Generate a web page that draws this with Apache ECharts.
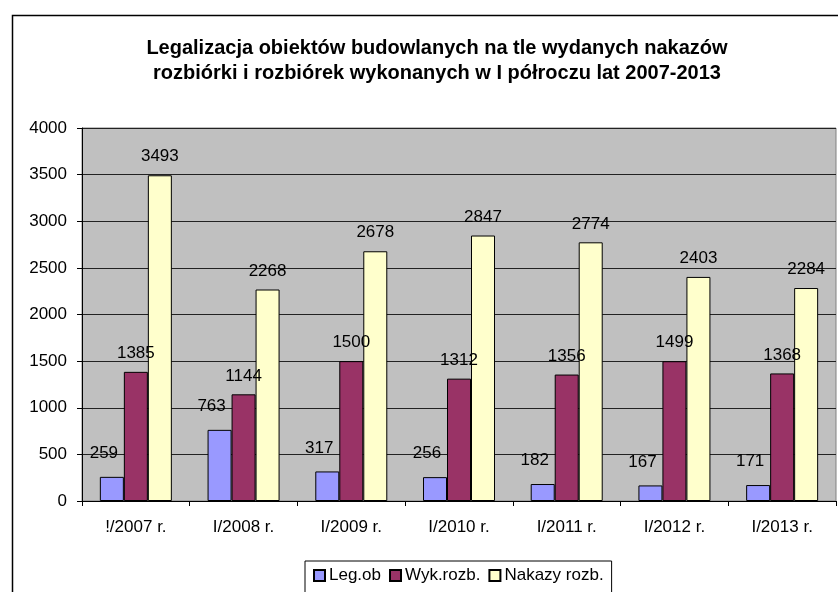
<!DOCTYPE html>
<html>
<head>
<meta charset="utf-8">
<script src="https://cdn.jsdelivr.net/npm/echarts@6/dist/echarts.min.js"></script>
<style>
  html, body { margin: 0; padding: 0; background: #fff; }
  #main { width: 838px; height: 592px; }
</style>
</head>
<body>
<div id="main"></div>
<script>
// dane z wykresu
var categories = ['!/2007 r.', 'I/2008 r.', 'I/2009 r.', 'I/2010 r.', 'I/2011 r.', 'I/2012 r.', 'I/2013 r.']
var legOb = [259, 763, 317, 256, 182, 167, 171]
var wykRozb = [1385, 1144, 1500, 1312, 1356, 1499, 1368]
var nakazyRozb = [3493, 2268, 2678, 2847, 2774, 2403, 2284]
var seriesNames = ['Leg.ob', 'Wyk.rozb.', 'Nakazy rozb.']

var font = 'Liberation Sans, Arial, sans-serif'
var chart = echarts.init(document.getElementById('main'))

function barSeries(name, data, color, labelOpts) {
  return {
    name: name,
    type: 'bar',
    data: data,
    barWidth: 24,
    barGap: '0%',
    itemStyle: { color: color, borderColor: '#000', borderWidth: 1 },
    label: Object.assign({
      show: true,
      position: 'top',
      color: '#000',
      fontFamily: font,
      fontSize: 17
    }, labelOpts)
  }
}

var option = {
  animation: false,
  backgroundColor: '#fff',
  title: {
    text: 'Legalizacja obiektów budowlanych na tle wydanych nakazów\nrozbiórki i rozbiórek wykonanych w I półroczu lat 2007-2013',
    left: 432,
    top: 31,
    textAlign: 'center',
    textStyle: {
      fontFamily: font,
      fontSize: 20,
      fontWeight: 'bold',
      color: '#000',
      lineHeight: 25
    }
  },
  graphic: [{
    type: 'rect',
    left: 10,
    top: 13,
    shape: { width: 860, height: 620 },
    style: { fill: 'none', stroke: '#000', lineWidth: 1.5 },
    silent: true
  }],
  legend: {
    data: seriesNames,
    left: 305,
    top: 561,
    padding: [6, 8, 12, 8],
    borderColor: '#000',
    borderWidth: 1,
    backgroundColor: '#fff',
    itemWidth: 11,
    itemHeight: 11,
    itemGap: 8,
    icon: 'rect',
    textStyle: { fontFamily: font, fontSize: 17, color: '#000', padding: [0, 0, 0, -1] }
  },
  grid: {
    left: 82,
    top: 128,
    width: 754,
    height: 373,
    show: true,
    backgroundColor: '#c0c0c0',
    borderColor: '#808080',
    borderWidth: 1
  },
  xAxis: {
    type: 'category',
    data: categories,
    axisLine: { lineStyle: { color: '#000' } },
    axisTick: { show: true, length: 5, lineStyle: { color: '#000' } },
    axisLabel: { fontFamily: font, fontSize: 17, color: '#000', margin: 18 }
  },
  yAxis: {
    type: 'value',
    min: 0,
    max: 4000,
    interval: 500,
    axisLine: { show: true, lineStyle: { color: '#000' } },
    axisTick: { show: true, length: 5, lineStyle: { color: '#000' } },
    axisLabel: {
      fontFamily: font, fontSize: 17, color: '#000', margin: 15,
      formatter: function (v) { return String(v) }
    },
    splitLine: { lineStyle: { color: '#222', width: 1 } }
  },
  series: [
    barSeries(seriesNames[0], legOb, '#9999ff', { distance: 15, offset: [-8, 0] }),
    barSeries(seriesNames[1], wykRozb, '#993366', { distance: 10 }),
    barSeries(seriesNames[2], nakazyRozb, '#ffffcc', { distance: 10 })
  ]
}

chart.setOption(option)
</script>
</body>
</html>
